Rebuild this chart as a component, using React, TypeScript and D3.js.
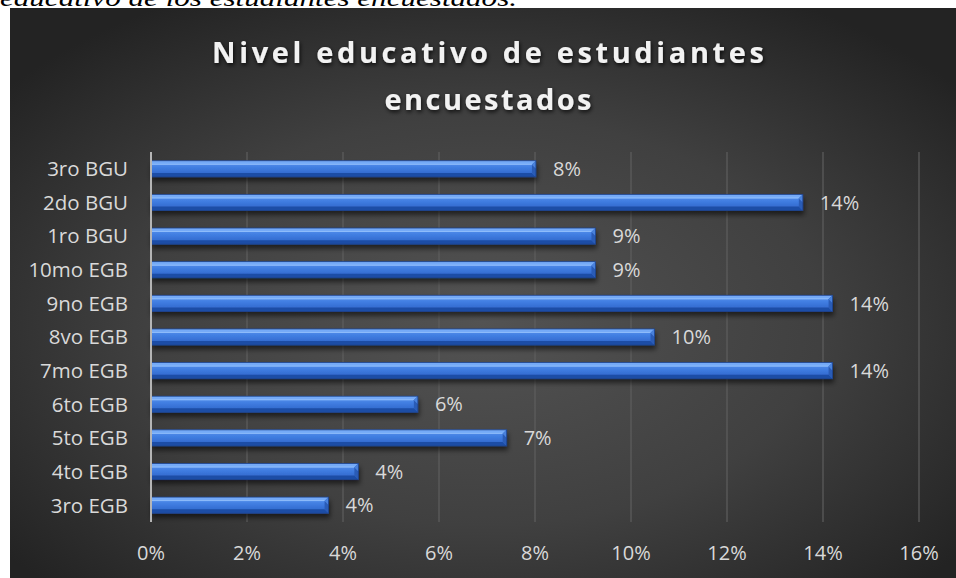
import React from "react";
import * as d3 from "d3";

const categories = ["3ro BGU", "2do BGU", "1ro BGU", "10mo EGB", "9no EGB", "8vo EGB", "7mo EGB", "6to EGB", "5to EGB", "4to EGB", "3ro EGB"];
const values = [8.02, 13.58, 9.26, 9.26, 14.2, 10.49, 14.2, 5.56, 7.41, 4.32, 3.7];
const tickValues = [0, 2, 4, 6, 8, 10, 12, 14, 16];
const titleLines = ["Nivel educativo de estudiantes", "encuestados"];
const titleWidths = [552, 207];
const captionText = "educativo de los estudiantes encuestados.";

const FONT = "'Open Sans', 'Noto Sans', sans-serif";

export default function App() {
  const W = 956;
  const H = 578;
  const x = d3.scaleLinear().domain([0, 16]).range([151, 919]);
  const y = d3
    .scaleBand<string>()
    .domain(categories)
    .range([152, 522])
    .paddingInner(0.52)
    .paddingOuter(0.26);
  const bw = y.bandwidth();
  const b = 4;
  const fmt = d3.format(".0f");

  return (
    <div style={{ position: "absolute", left: 0, top: 0 }}>
      <svg width={W} height={H} style={{ display: "block" }}>
        <defs>
          <radialGradient id="bg" cx="50%" cy="55%" r="65%">
            <stop offset="0%" stopColor="#535353" />
            <stop offset="55%" stopColor="#404040" />
            <stop offset="100%" stopColor="#232323" />
          </radialGradient>
          <linearGradient id="barBody" x1="0" y1="0" x2="0" y2="1">
            <stop offset="0%" stopColor="#5a95f0" />
            <stop offset="45%" stopColor="#3f7ce0" />
            <stop offset="100%" stopColor="#2c60c4" />
          </linearGradient>
          <filter id="barShadow" x="-5%" y="-50%" width="110%" height="250%">
            <feDropShadow dx="1" dy="4" stdDeviation="2.5" floodColor="#000" floodOpacity="0.55" />
          </filter>
          <filter id="titleShadow" x="-10%" y="-30%" width="120%" height="180%">
            <feDropShadow dx="1" dy="2" stdDeviation="2" floodColor="#000" floodOpacity="0.8" />
          </filter>
        </defs>
        <rect x={0} y={0} width={W} height={H} fill="#ffffff" />
        <text
          x={0}
          y={6}
          fontFamily="'Liberation Serif', 'Times New Roman', serif"
          fontStyle="italic"
          fontSize={24}
          textLength={517}
          lengthAdjust="spacingAndGlyphs"
          fill="#000"
        >
          {captionText}
        </text>
        <rect x={10} y={8} width={W - 10} height={H - 8} fill="url(#bg)" />

        {/* title */}
        {titleLines.map((t, i) => (
          <text
            key={t}
            x={488}
            y={63 + i * 47}
            textAnchor="middle"
            fontFamily={FONT}
            fontWeight="bold"
            fontSize={29}
            textLength={titleWidths[i]}
            lengthAdjust="spacing"
            fill="#f2f2f2"
            filter="url(#titleShadow)"
          >
            {t}
          </text>
        ))}

        {/* gridlines */}
        {tickValues
          .filter((t) => t > 0)
          .map((t) => (
            <line key={t} x1={x(t)} x2={x(t)} y1={152} y2={522} stroke="#5e5e5e" strokeWidth={1.2} />
          ))}

        {/* bars */}
        {categories.map((c, i) => {
          const x0 = x(0);
          const x1 = x(values[i]);
          const y0 = y(c)!;
          const y1 = y0 + bw;
          return (
            <g key={c} filter="url(#barShadow)">
              <rect x={x0} y={y0} width={x1 - x0} height={bw} fill="url(#barBody)" />
              <polygon points={`${x0},${y0} ${x1},${y0} ${x1 - b},${y0 + b} ${x0},${y0 + b}`} fill="#74aaf7" />
              <line x1={x0} x2={x1 - b} y1={y0 + b - 0.5} y2={y0 + b - 0.5} stroke="#8fbcfa" strokeWidth={1} />
              <polygon points={`${x0},${y1} ${x1},${y1} ${x1 - b},${y1 - b} ${x0},${y1 - b}`} fill="#1f4ea6" />
              <polygon points={`${x1},${y0} ${x1},${y1} ${x1 - b},${y1 - b} ${x1 - b},${y0 + b}`} fill="#2a5bb6" />
              <polygon points={`${x1},${y0} ${x1},${y0 + bw / 2} ${x1 - b},${y0 + b}`} fill="#4a82dc" />
              <rect x={x0} y={y0} width={x1 - x0} height={bw} fill="none" stroke="#1d4189" strokeWidth={0.8} />
            </g>
          );
        })}

        {/* axis line */}
        <line x1={x(0)} x2={x(0)} y1={152} y2={522} stroke="#b5b5b5" strokeWidth={2} />

        {/* data labels */}
        {categories.map((c, i) => (
          <text
            key={c}
            x={x(values[i]) + 17}
            y={y(c)! + bw / 2}
            dy="0.36em"
            fontFamily={FONT}
            fontSize={20}
            fill="#d9d9d9"
          >
            {fmt(values[i]) + "%"}
          </text>
        ))}

        {/* category labels */}
        {categories.map((c) => (
          <text
            key={c}
            x={128}
            y={y(c)! + bw / 2}
            dy="0.36em"
            textAnchor="end"
            fontFamily={FONT}
            fontSize={20.5}
            fill="#d9d9d9"
          >
            {c}
          </text>
        ))}

        {/* x tick labels */}
        {tickValues.map((t) => (
          <text
            key={t}
            x={x(t)}
            y={553}
            dy="0.36em"
            textAnchor="middle"
            fontFamily={FONT}
            fontSize={20}
            fill="#d9d9d9"
          >
            {t + "%"}
          </text>
        ))}
      </svg>
    </div>
  );
}
